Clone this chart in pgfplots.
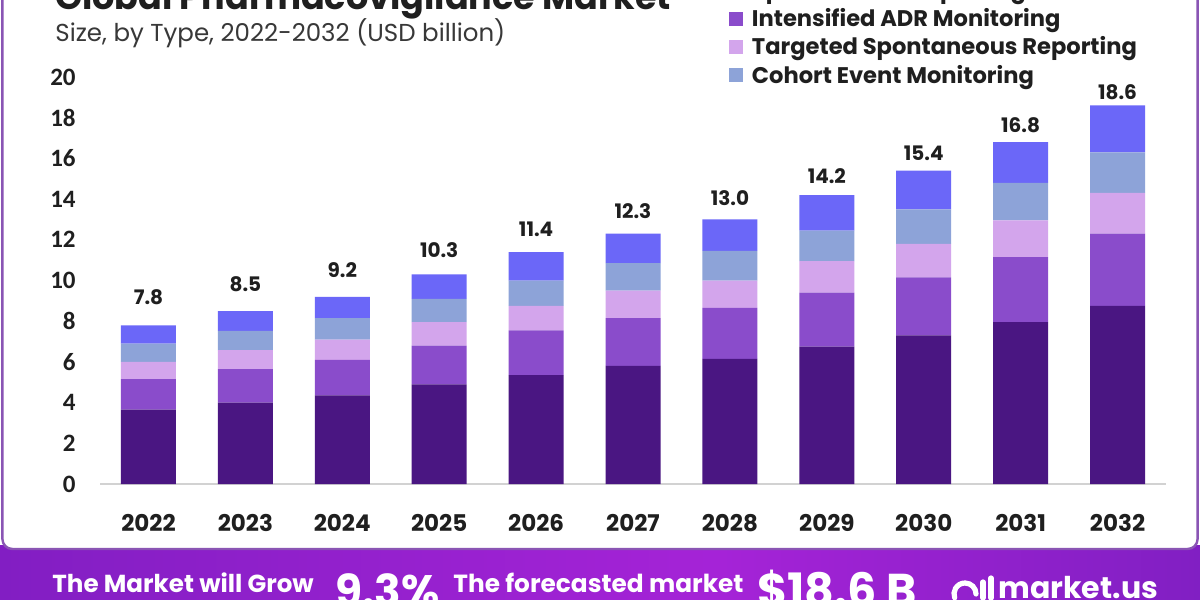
\documentclass[border=0pt]{standalone}
\usepackage{pgfplots}
\pgfplotsset{compat=1.18}
\usepackage{pgfplotstable}
\usepackage{fontspec}
\setmainfont{Poppins}
\newfontfamily\carlito{Carlito}
\definecolor{cA}{HTML}{4A1682}
\definecolor{cB}{HTML}{8A4CCB}
\definecolor{cC}{HTML}{D3A5EC}
\definecolor{cD}{HTML}{8DA3D8}
\definecolor{cE}{HTML}{6B67F8}
\definecolor{frame}{HTML}{8A55B4}
\definecolor{bA}{RGB}{70,20,140}
\definecolor{bB}{RGB}{130,30,195}
\definecolor{bC}{RGB}{165,35,215}
\definecolor{bD}{RGB}{120,30,190}
\definecolor{bE}{RGB}{55,15,110}
\pgfdeclarehorizontalshading{banner}{100bp}{color(0bp)=(bA); color(25bp)=(bB); color(55bp)=(bC); color(80bp)=(bD); color(100bp)=(bE)}

\pgfplotstableread{
x a b c d e total
0 3.65 1.50 0.85 0.90 0.90 7.8
1 4.00 1.65 0.93 0.94 0.98 8.5
2 4.35 1.75 1.00 1.05 1.05 9.2
3 4.90 1.90 1.15 1.15 1.20 10.3
4 5.35 2.20 1.20 1.25 1.40 11.4
5 5.80 2.35 1.35 1.35 1.45 12.3
6 6.15 2.50 1.35 1.45 1.55 13.0
7 6.75 2.65 1.55 1.50 1.75 14.2
8 7.30 2.85 1.65 1.70 1.90 15.4
9 7.95 3.20 1.80 1.85 2.00 16.8
10 8.75 3.55 2.00 2.00 2.30 18.6
}\data

\begin{document}
\begin{tikzpicture}
\shade[shading=banner] (0pt,0pt) rectangle (600pt,27pt);
\fill[white, draw=frame, line width=1.2pt, rounded corners=5pt] (1.2pt,25.5pt) rectangle (598.8pt,330pt);
\node[anchor=base west, inner sep=0pt, font=\bfseries\fontsize{17.5}{18}\selectfont, text=black!88] at (27.5pt,295pt) {Global Pharmacovigilance Market};
\node[anchor=base west, inner sep=0pt, font=\fontsize{12.25}{12.25}\selectfont, text=black!78] at (27.5pt,279pt) {Size, by Type, 2022-2032 (USD billion)};
\begin{axis}[
  at={(50pt,58pt)}, anchor=south west, scale only axis,
  width=533pt, height=203.5pt,
  xmin=-0.5, xmax=10.5, ymin=0, ymax=20,
  enlargelimits=false,
  ybar stacked, bar width=27.5pt,
  axis x line=bottom, axis y line=left,
  x axis line style={draw=gray!35, line width=1pt, -},
  y axis line style={draw=none},
  major tick length=0pt,
  tick style={draw=none},
  ytick={0,2,...,20},
  xtick={0,...,10},
  xticklabels={2022,2023,2024,2025,2026,2027,2028,2029,2030,2031,2032},
  /pgf/number format/assume math mode=true,
  yticklabel style={font=\carlito\bfseries\fontsize{12.5}{12.5}\selectfont, text=black!88, anchor=east, inner sep=0pt, xshift=-12pt},
  xticklabel style={font=\bfseries\fontsize{11.5}{11.5}\selectfont, text=black!88, anchor=north, inner sep=0pt, yshift=-15pt},
  clip=false,
  legend cell align=left,
  legend style={draw=none, fill=none, inner sep=0pt, outer sep=0pt,
    anchor=north west, at={(axis description cs:0.59,1.2383)},
    font=\bfseries\fontsize{11.3}{12}\selectfont, text=black!88,
    row sep=3.6pt, column sep=4.5pt, nodes={inner sep=0pt}},
  legend image code/.code={\fill[#1] (0pt,-3.5pt) rectangle (7pt,3.5pt);},
]
\addplot[fill=cA, draw=none] table[x=x, y=a]{\data};
\addlegendentry{Spontaneous Reporting}
\addplot[fill=cB, draw=none] table[x=x, y=b]{\data};
\addlegendentry{Intensified ADR Monitoring}
\addplot[fill=cC, draw=none] table[x=x, y=c]{\data};
\addlegendentry{Targeted Spontaneous Reporting}
\addplot[fill=cD, draw=none] table[x=x, y=d]{\data};
\addlegendentry{Cohort Event Monitoring}
\addplot[fill=cE, draw=none, point meta=explicit,
  nodes near coords={\pgfmathprintnumber[fixed,fixed zerofill,precision=1,assume math mode=true]{\pgfplotspointmeta}},
  nodes near coords style={font=\bfseries\fontsize{10}{10}\selectfont, text=black!88, anchor=south, inner sep=0pt, yshift=14.5pt}]
  table[x=x, y=e, meta=total]{\data};
\end{axis}
\node[anchor=base west, inner sep=0pt, text=white, font=\bfseries\fontsize{12.3}{12.3}\selectfont] at (26pt,3.5pt) {The Market will Grow};
\node[anchor=base west, inner sep=0pt, text=white, font=\bfseries\fontsize{22}{22}\selectfont] at (167.5pt,-3pt) {9.3\%};
\node[anchor=base west, inner sep=0pt, text=white, font=\bfseries\fontsize{12.4}{12.4}\selectfont] at (226.5pt,3.5pt) {The forecasted market};
\node[anchor=base west, inner sep=0pt, text=white, font=\bfseries\fontsize{23}{23}\selectfont] at (378.5pt,-3pt) {\$18.6 B};
\draw[white, line width=2.6pt, line cap=round] (488pt,3pt) arc[start angle=0, end angle=200, radius=5.5pt];
\draw[white, line width=2.6pt, line cap=round] (491.5pt,1pt) -- (491.5pt,9pt);
\draw[white, line width=2.6pt, line cap=round] (495.5pt,1pt) -- (495.5pt,11pt);
\node[anchor=base west, inner sep=0pt, text=white, font=\bfseries\fontsize{15}{15}\selectfont] at (499pt,1pt) {market.us};
\pgfresetboundingbox
\useasboundingbox (0pt,0pt) rectangle (600pt,300pt);
\end{tikzpicture}
\end{document}
